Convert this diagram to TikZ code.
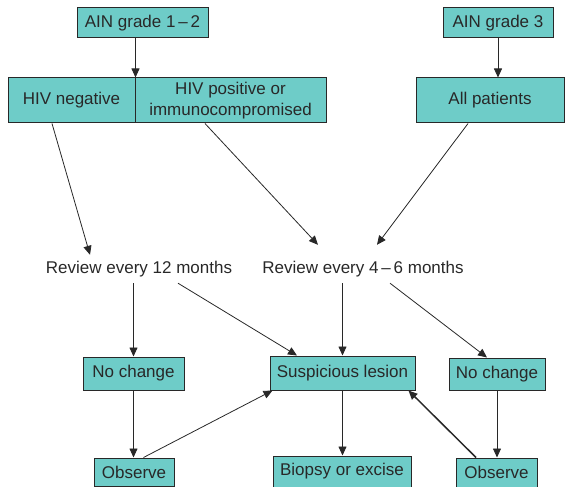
\documentclass[tikz,border=0pt]{standalone}
\usepackage{fontspec}
\setmainfont{Liberation Sans}
\usetikzlibrary{arrows.meta}
\definecolor{boxfill}{RGB}{110,204,200}
\definecolor{ink}{RGB}{40,40,40}
\begin{document}
\begin{tikzpicture}[x=1pt,y=-1pt,
  font=\fontsize{17}{21}\selectfont,
  box/.style={draw=ink,fill=boxfill,line width=1pt,inner sep=0pt,text=ink,align=center},
  txt/.style={inner xsep=0pt,inner ysep=6.25pt,text height=12pt,text depth=3.5pt,text=ink},
  arr/.style={draw=ink,line width=0.8pt,-{Triangle[length=9pt,width=8pt]}},
  thickarr/.style={arr,line width=1.5pt}]
\useasboundingbox (0,0) rectangle (571,487);
% boxes
\node[box,minimum width=131,minimum height=30] (ain12) at (142.5,23) {AIN grade 1\,--\,2};
\node[box,minimum width=110,minimum height=30] (ain3) at (498,23) {AIN grade 3};
\node[box,minimum width=127,minimum height=45] (hivneg) at (71.5,100.5) {HIV negative};
\node[box,minimum width=191,minimum height=45] (hivpos) at (230.5,100.5) {HIV positive or\\immunocompromised};
\node[box,minimum width=148,minimum height=45] (allp) at (490,100.5) {All patients};
\node[txt] (r12) at (139,269) {Review every 12 months};
\node[txt] (r46) at (363,269) {Review every 4\,--\,6 months};
\node[box,minimum width=101,minimum height=33] (nc1) at (133.5,373.5) {No change};
\node[box,minimum width=145,minimum height=34] (sus) at (342.5,373) {Suspicious lesion};
\node[box,minimum width=96,minimum height=32] (nc2) at (497,374) {No change};
\node[box,minimum width=80,minimum height=28] (ob1) at (134,472) {Observe};
\node[box,minimum width=138,minimum height=31] (bio) at (342,471.5) {Biopsy or excise};
\node[box,minimum width=81,minimum height=29] (ob2) at (496.5,472.5) {Observe};
% connectors
\draw[arr] (ain12.south -| hivneg.north east) -- (hivneg.north east);
\draw[arr] (ain3.south) -- (ain3.south |- allp.north);
\draw[arr] ([xshift=-19.5]hivneg.south) -- ([xshift=-49pt]r12.north);
\draw[arr] ([xshift=-25.5]hivpos.south) -- ([xshift=-45pt,yshift=10pt]r46.north);
\draw[arr] ([xshift=-22]allp.south) -- ([xshift=14pt,yshift=10pt]r46.north);
\draw[arr] (r12.south -| nc1.north) -- (nc1.north);
\draw[arr] ([xshift=39pt]r12.south) -- ([xshift=-45.5pt]sus.north);
\draw[arr] (r46.south -| sus.north) -- (sus.north);
\draw[arr] ([xshift=27pt]r46.south) -- ([xshift=-10pt]nc2.north);
\draw[arr] (nc1.south) -- (nc1.south |- ob1.north);
\draw[arr] ([xshift=9.5pt]ob1.north) -- ([xshift=3pt]sus.south west);
\draw[arr] (sus.south) -- (sus.south |- bio.north);
\draw[arr] (nc2.south) -- (nc2.south |- ob2.north);
\draw[thickarr] ([xshift=-20.5pt]ob2.north) -- ([xshift=-7pt]sus.south east);
\end{tikzpicture}
\end{document}
